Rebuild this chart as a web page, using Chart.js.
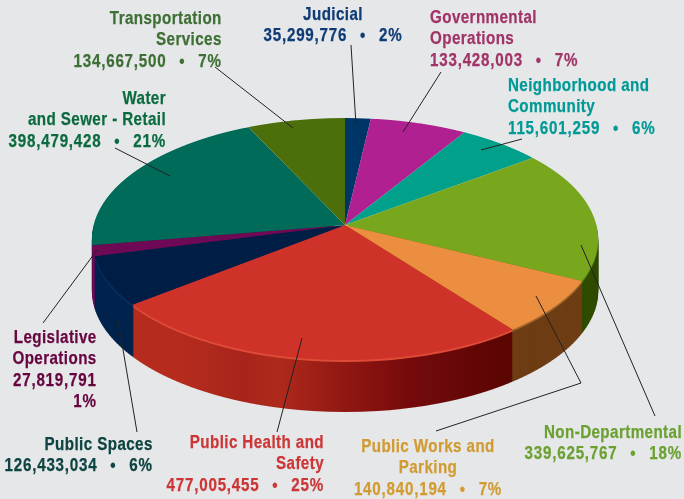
<!DOCTYPE html>
<html>
<head>
<meta charset="utf-8">
<script src="https://cdn.jsdelivr.net/npm/chart.js@4"></script>
<style>
  html, body { margin: 0; padding: 0; background: #e6e7e9; }
  #wrap { position: relative; width: 684px; height: 499px; overflow: hidden; }
  canvas { position: absolute; left: 0; top: 0; }
  .lbl {
    position: absolute; white-space: nowrap;
    font-family: "Liberation Sans", sans-serif;
    font-weight: bold; font-size: 18.5px; line-height: 21.4px; letter-spacing: 0.5px;
    -webkit-text-stroke: 0.25px currentColor;
  }
  .num { letter-spacing: 0.95px; }
  .dot { margin: 0 3.5px; }
</style>
</head>
<body>
<div id="wrap"><canvas id="pie" width="684" height="499"></canvas></div>
<script>
const categories = ['Judicial', 'Governmental Operations', 'Neighborhood and Community', 'Non-Departmental',
    'Public Works and Parking', 'Public Health and Safety', 'Public Spaces', 'Legislative Operations',
    'Water and Sewer - Retail', 'Transportation Services'];
const budgetValues = [35299776, 133428003, 115601259, 339625767, 140840194, 477005455, 126433034, 27819791, 398479428, 134667500];
const percentLabels = ['2%', '7%', '6%', '18%', '7%', '25%', '6%', '1%', '21%', '7%'];

const sliceColors = ['#003567', '#B02090', '#00A08A', '#78A61C', '#EB8E40', '#CE3228', '#001E45', '#6E0A55', '#006B58', '#4C6F0B'];
const sideColors = ['#002045', '#70105C', '#006A5A', '#2F4B00', '#6E3D14', null, '#00234E', '#6E0A55', '#00453A', '#2F4A00'];
const rimColors = ['#002045', '#70105C', '#006A5A', '#47700C', '#9A6228', '#DE4C38', '#0A2F5F', '#6E0A55', '#00453A', '#2F4A00'];
const healthSideStops = [[0, '#B52C1E'], [0.1, '#AE281C'], [0.2, '#A8241A'], [0.3, '#AE2A1C'], [0.42, '#9C1E16'],
    [0.55, '#8A1410'], [0.7, '#74090B'], [0.78, '#6C0A0A'], [0.85, '#660707'], [1, '#5A0500']];

// label layout: text lines, where it sits, how it is aligned
const labelLayout = [
    { lines: ['Judicial'], x: 333, top: 3, align: 'center', color: '#0F3B76' },
    { lines: ['Governmental', 'Operations'], x: 430, top: 6, align: 'left', color: '#A03468' },
    { lines: ['Neighborhood and', 'Community'], x: 508, top: 74, align: 'left', color: '#009A96' },
    { lines: ['Non-Departmental'], x: 682, top: 421, align: 'right', color: '#6BA131' },
    { lines: ['Public Works and', 'Parking'], x: 428, top: 435, align: 'center', color: '#D19B32' },
    { lines: ['Public Health and', 'Safety'], x: 324, top: 431, align: 'right', color: '#CC3636' },
    { lines: ['Public Spaces'], x: 153, top: 433, align: 'right', color: '#0D4340' },
    { lines: ['Legislative', 'Operations'], x: 97, top: 326, align: 'right', color: '#66053F', stacked: true },
    { lines: ['Water', 'and Sewer - Retail'], x: 166, top: 87, align: 'right', color: '#0B6B3F' },
    { lines: ['Transportation', 'Services'], x: 222, top: 7, align: 'right', color: '#3E6F35' }
];
const labelSqueeze = 0.82;

const leaderLines = [
    [[351, 45], [356, 125]],
    [[441, 72], [403, 132]],
    [[522, 139], [481, 150]],
    [[655, 416], [581, 245]],
    [[536, 296], [581, 383], [436, 431]],
    [[302, 338], [277, 432]],
    [[118, 320], [137, 432]],
    [[43, 323], [97, 250]],
    [[115, 148], [170, 176]],
    [[215, 67], [293, 128]]
];

// perspective of the disc: rows nearer the viewer are wider and taller
const apexX = 345, apexY = 225;
const radius = 253;
const backReach = 107, frontReach = 135;
const tilt = (frontReach - backReach) / (frontReach + backReach);
const rowScale = frontReach * (1 - tilt);
const widthScale = radius * Math.sqrt(1 - tilt * tilt);
const depth = 52;

const wrap = document.getElementById('wrap');
budgetValues.forEach((v, i) => {
    const l = labelLayout[i];
    const div = document.createElement('div');
    div.className = 'lbl';
    const money = v.toLocaleString('en-US');
    const tail = l.stacked
        ? `<span class="num">${money}</span><br><span class="num">${percentLabels[i]}</span>`
        : `<span class="num">${money}&nbsp;&nbsp;<span class="dot">•</span>&nbsp;&nbsp;${percentLabels[i]}</span>`;
    div.innerHTML = l.lines.join('<br>') + '<br>' + tail;
    div.style.color = l.color;
    div.style.top = l.top + 'px';
    div.style.textAlign = l.align;
    if (l.align === 'left') {
        div.style.left = l.x + 'px';
        div.style.transformOrigin = 'left top';
        div.style.transform = `scaleX(${labelSqueeze})`;
    }
    if (l.align === 'right') {
        div.style.right = (684 - l.x) + 'px';
        div.style.transformOrigin = 'right top';
        div.style.transform = `scaleX(${labelSqueeze})`;
    }
    if (l.align === 'center') {
        div.style.left = l.x + 'px';
        div.style.transform = `translateX(-50%) scaleX(${labelSqueeze})`;
    }
    wrap.appendChild(div);
});

function drawWith(arc, ctx, fill) {
    const copy = Object.create(arc);
    copy.options = Object.assign({}, arc.options, { backgroundColor: fill, borderWidth: 0 });
    copy.draw(ctx);
}

// paints the arcs row band by row band, each band with the scale of its distance
function paintBands(chart, fromRow, toRow, step, shift, fillFor) {
    const ctx = chart.ctx;
    const arcs = chart.getDatasetMeta(0).data;
    const cx = arcs[0].x, cy = arcs[0].y;
    for (let row = fromRow; row < toRow; row += step) {
        const mid = row + step / 2;
        const v = mid / (rowScale + tilt * mid);
        const w = 1 / (1 - tilt * v);
        const sx = widthScale * w / radius;
        const sy = rowScale * w * w / radius;
        ctx.save();
        ctx.beginPath();
        ctx.rect(0, apexY + shift + row, 684, step);
        ctx.clip();
        ctx.translate(apexX, apexY + shift + mid);
        ctx.scale(sx, sy);
        ctx.translate(-cx, -(cy + v * radius));
        arcs.forEach((arc, i) => drawWith(arc, ctx, fillFor(i)));
        ctx.restore();
    }
}

const pie3d = {
    id: 'pie3d',
    beforeDatasetsDraw(chart) {
        const cx = chart.getDatasetMeta(0).data[0].x;
        const healthSide = chart.ctx.createLinearGradient(cx - 150, 0, cx + 150, 0);
        healthSideStops.forEach(s => healthSide.addColorStop(s[0], s[1]));

        // side wall, stacked from the bottom up
        for (let d = depth; d >= 1; d--) {
            paintBands(chart, 0, frontReach, 2, d, i => d <= 2 ? rimColors[i] : (sideColors[i] || healthSide));
        }
        // top face
        paintBands(chart, -backReach, frontReach, 1, 0, i => sliceColors[i]);
        return false;
    },
    afterDraw(chart) {
        const ctx = chart.ctx;
        ctx.save();
        ctx.strokeStyle = '#222222';
        ctx.lineWidth = 1;
        leaderLines.forEach(pts => {
            ctx.beginPath();
            pts.forEach((p, i) => i ? ctx.lineTo(p[0], p[1]) : ctx.moveTo(p[0], p[1]));
            ctx.stroke();
        });
        ctx.restore();
    }
};

new Chart(document.getElementById('pie'), {
    type: 'pie',
    data: {
        labels: categories,
        datasets: [{ data: budgetValues, backgroundColor: sliceColors, borderWidth: 0 }]
    },
    options: {
        responsive: false,
        animation: false,
        radius: radius,
        layout: { padding: 0 },
        plugins: { legend: { display: false }, tooltip: { enabled: false } }
    },
    plugins: [pie3d]
});
</script>
</body>
</html>
